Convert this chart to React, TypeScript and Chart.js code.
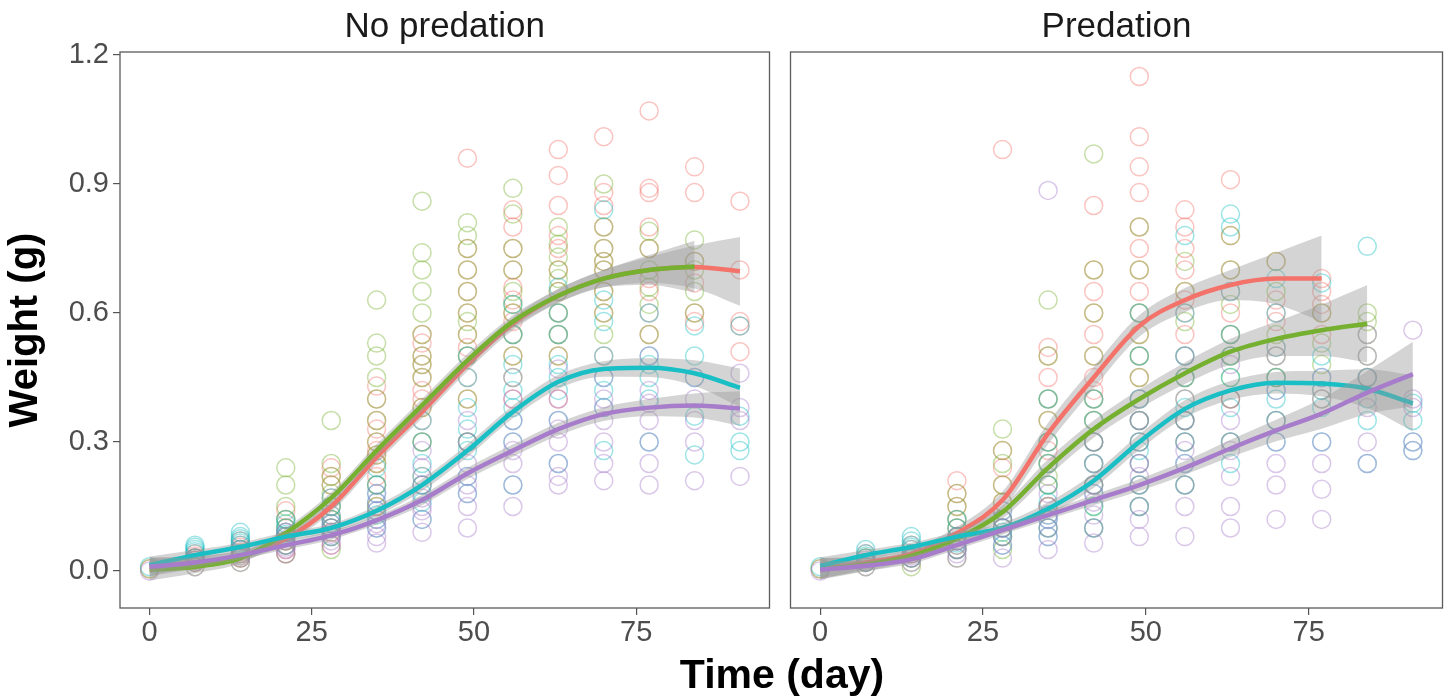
import React, { useEffect, useRef } from "react";
import { Chart, registerables } from "chart.js";
Chart.register(...registerables);

// ---------- data ----------
const DAYS = [0, 7, 14, 21, 28, 35, 42, 49, 56, 63, 70, 77, 84, 91];
const X_TICKS = [0, 25, 50, 75];
const Y_TICKS = [0, 0.3, 0.6, 0.9, 1.2];
const X_MIN = -4.55;
const X_MAX = 95.55;
const Y_MIN = -0.086;
const Y_MAX = 1.207;
const PANEL_TITLES = ["No predation", "Predation"];
const Y_TITLE = "Weight (g)";
const X_TITLE = "Time (day)";
const GROUP_COLORS = ["#F3736B", "#76B030", "#19BFC4", "#A77DCB"];

// No predation: observed weights per day (one inner array per day in DAYS)
const npRedPts = [
  [0.005],
  [0.02, 0.025, 0.03, 0.035, 0.04, 0.03],
  [0.03, 0.04, 0.045, 0.05, 0.055, 0.06, 0.07],
  [0.04, 0.05, 0.06, 0.07, 0.08, 0.09, 0.1, 0.12, 0.14],
  [0.06, 0.09, 0.1, 0.12, 0.13, 0.15, 0.17, 0.2, 0.22, 0.24],
  [0.15, 0.2, 0.22, 0.25, 0.27, 0.28, 0.3, 0.33, 0.35, 0.4, 0.43],
  [0.22, 0.3, 0.35, 0.38, 0.4, 0.42, 0.45, 0.48, 0.5, 0.53, 0.55],
  [0.3, 0.4, 0.45, 0.5, 0.52, 0.55, 0.6, 0.65, 0.7, 0.75, 0.96],
  [0.4, 0.5, 0.55, 0.58, 0.6, 0.63, 0.66, 0.7, 0.75, 0.8, 0.84],
  [0.4, 0.5, 0.55, 0.6, 0.65, 0.7, 0.75, 0.78, 0.85, 0.92, 0.98],
  [0.5, 0.6, 0.65, 0.7, 0.72, 0.75, 0.8, 0.85, 0.88, 1.01],
  [0.55, 0.6, 0.65, 0.68, 0.75, 0.8, 0.88, 0.89, 1.07],
  [0.58, 0.6, 0.67, 0.72, 0.88, 0.94],
  [0.51, 0.57, 0.58, 0.7, 0.86],
];
const npGreenPts = [
  [0.005],
  [0.01, 0.02, 0.025, 0.03],
  [0.02, 0.03, 0.035, 0.04, 0.05],
  [0.04, 0.06, 0.07, 0.08, 0.1, 0.12, 0.15, 0.2, 0.24],
  [0.05, 0.08, 0.1, 0.12, 0.15, 0.18, 0.2, 0.22, 0.25, 0.35],
  [0.15, 0.2, 0.25, 0.27, 0.3, 0.35, 0.4, 0.45, 0.5, 0.53, 0.63],
  [0.2, 0.3, 0.38, 0.45, 0.48, 0.5, 0.55, 0.6, 0.65, 0.7, 0.74, 0.86],
  [0.3, 0.4, 0.5, 0.55, 0.58, 0.6, 0.65, 0.7, 0.75, 0.78, 0.81],
  [0.45, 0.5, 0.55, 0.6, 0.62, 0.65, 0.7, 0.75, 0.83, 0.89],
  [0.5, 0.55, 0.6, 0.65, 0.68, 0.7, 0.73, 0.76, 0.8],
  [0.55, 0.6, 0.65, 0.7, 0.72, 0.75, 0.8, 0.9],
  [0.55, 0.62, 0.66, 0.7, 0.75, 0.79],
  [0.6, 0.65, 0.7, 0.72, 0.77],
  [],
];
const npCyanPts = [
  [0.01],
  [0.03, 0.04, 0.045, 0.05, 0.055, 0.06],
  [0.05, 0.06, 0.065, 0.07, 0.075, 0.08, 0.09],
  [0.06, 0.08, 0.085, 0.09, 0.1, 0.11, 0.12],
  [0.08, 0.1, 0.11, 0.12, 0.13, 0.15, 0.17],
  [0.1, 0.12, 0.13, 0.14, 0.16, 0.18, 0.2, 0.24],
  [0.12, 0.16, 0.18, 0.2, 0.22, 0.25, 0.3, 0.35],
  [0.18, 0.22, 0.28, 0.3, 0.33, 0.38, 0.45, 0.5],
  [0.2, 0.3, 0.35, 0.38, 0.42, 0.48, 0.55, 0.62],
  [0.25, 0.35, 0.42, 0.45, 0.48, 0.55, 0.6, 0.66],
  [0.28, 0.38, 0.42, 0.45, 0.5, 0.58, 0.63, 0.84],
  [0.3, 0.4, 0.45, 0.48, 0.5, 0.6],
  [0.27, 0.36, 0.45, 0.5, 0.57],
  [0.28, 0.3, 0.36, 0.57],
];
const npPurplePts = [
  [0.0],
  [0.01, 0.02, 0.025, 0.03],
  [0.02, 0.03, 0.035, 0.04, 0.05],
  [0.04, 0.05, 0.055, 0.06, 0.07, 0.08, 0.09],
  [0.06, 0.07, 0.08, 0.085, 0.09, 0.1, 0.11],
  [0.065, 0.08, 0.1, 0.11, 0.12, 0.14, 0.16, 0.18],
  [0.09, 0.12, 0.14, 0.15, 0.17, 0.2, 0.24, 0.28],
  [0.1, 0.15, 0.18, 0.2, 0.22, 0.25, 0.3, 0.35],
  [0.15, 0.2, 0.25, 0.28, 0.3, 0.35, 0.4, 0.45],
  [0.2, 0.22, 0.25, 0.3, 0.33, 0.35, 0.4, 0.47],
  [0.21, 0.25, 0.3, 0.35, 0.38, 0.4, 0.45],
  [0.2, 0.25, 0.3, 0.35, 0.39, 0.42, 0.5],
  [0.21, 0.3, 0.35, 0.4, 0.45],
  [0.22, 0.35, 0.38, 0.46],
];

// Predation: observed weights per day
const pRedPts = [
  [0.005],
  [0.02, 0.03, 0.04],
  [0.03, 0.04, 0.05, 0.06],
  [0.05, 0.07, 0.08, 0.1, 0.12, 0.15, 0.18, 0.21],
  [0.08, 0.1, 0.12, 0.16, 0.2, 0.24, 0.28, 0.98],
  [0.15, 0.2, 0.25, 0.28, 0.3, 0.35, 0.4, 0.45, 0.5, 0.52],
  [0.2, 0.3, 0.35, 0.4, 0.42, 0.45, 0.5, 0.55, 0.6, 0.65, 0.7, 0.85],
  [0.25, 0.35, 0.45, 0.5, 0.55, 0.6, 0.65, 0.7, 0.75, 0.8, 0.88, 0.94, 1.01, 1.15],
  [0.35, 0.45, 0.55, 0.6, 0.63, 0.65, 0.7, 0.75, 0.8, 0.84],
  [0.4, 0.5, 0.55, 0.6, 0.65, 0.7, 0.78, 0.91],
  [0.45, 0.52, 0.58, 0.6, 0.63, 0.72],
  [0.42, 0.55, 0.6, 0.62, 0.65, 0.68],
  [],
  [],
];
const pGreenPts = [
  [0.005],
  [0.01, 0.02, 0.03],
  [0.01, 0.02, 0.03, 0.04],
  [0.03, 0.05, 0.06, 0.08, 0.1, 0.12, 0.15, 0.18],
  [0.05, 0.08, 0.1, 0.12, 0.16, 0.2, 0.25, 0.28, 0.33],
  [0.1, 0.15, 0.2, 0.22, 0.25, 0.3, 0.35, 0.4, 0.5, 0.63],
  [0.1, 0.15, 0.2, 0.25, 0.3, 0.35, 0.4, 0.5, 0.6, 0.7, 0.97],
  [0.15, 0.2, 0.3, 0.35, 0.4, 0.45, 0.5, 0.55, 0.6, 0.7, 0.8],
  [0.2, 0.3, 0.35, 0.4, 0.45, 0.5, 0.58, 0.65, 0.72],
  [0.3, 0.4, 0.45, 0.5, 0.55, 0.62, 0.7, 0.78],
  [0.35, 0.45, 0.5, 0.55, 0.65, 0.72],
  [0.4, 0.48, 0.53, 0.6],
  [0.45, 0.5, 0.55, 0.58, 0.6],
  [],
];
const pCyanPts = [
  [0.01],
  [0.02, 0.03, 0.035, 0.04, 0.05],
  [0.03, 0.05, 0.055, 0.06, 0.07, 0.08],
  [0.05, 0.065, 0.07, 0.08, 0.1, 0.12],
  [0.06, 0.08, 0.09, 0.1, 0.12, 0.14],
  [0.08, 0.1, 0.12, 0.13, 0.16, 0.2, 0.25, 0.3, 0.4],
  [0.1, 0.15, 0.18, 0.2, 0.25, 0.3, 0.35, 0.4],
  [0.15, 0.2, 0.25, 0.28, 0.3, 0.35, 0.4, 0.5, 0.6],
  [0.2, 0.25, 0.3, 0.35, 0.38, 0.45, 0.5, 0.6, 0.78],
  [0.25, 0.3, 0.38, 0.45, 0.5, 0.55, 0.65, 0.8, 0.83],
  [0.3, 0.35, 0.4, 0.42, 0.45, 0.52, 0.6, 0.68],
  [0.3, 0.38, 0.42, 0.45, 0.5, 0.67],
  [0.25, 0.35, 0.4, 0.45, 0.755],
  [0.28, 0.3, 0.35, 0.39],
];
const pPurplePts = [
  [0.0],
  [0.01, 0.02, 0.025],
  [0.02, 0.03, 0.035, 0.04],
  [0.03, 0.04, 0.05, 0.06, 0.07, 0.08],
  [0.03, 0.06, 0.08, 0.1, 0.12, 0.14],
  [0.05, 0.08, 0.1, 0.12, 0.13, 0.15, 0.18, 0.885],
  [0.065, 0.1, 0.13, 0.16, 0.18, 0.2, 0.25, 0.3],
  [0.08, 0.12, 0.15, 0.2, 0.22, 0.25, 0.3, 0.35, 0.4],
  [0.08, 0.15, 0.2, 0.25, 0.28, 0.3, 0.35, 0.4, 0.5],
  [0.1, 0.15, 0.22, 0.28, 0.3, 0.35, 0.4, 0.48],
  [0.12, 0.2, 0.25, 0.3, 0.35, 0.42, 0.5],
  [0.12, 0.19, 0.25, 0.3, 0.4, 0.45],
  [0.25, 0.3, 0.38, 0.45, 0.5, 0.55],
  [0.28, 0.3, 0.38, 0.4, 0.56],
];

// Smoothed fits (value at each day; null where a group's fit stops)
const npRedFit = [0.01, 0.02, 0.035, 0.075, 0.15, 0.265, 0.37, 0.48, 0.575, 0.64, 0.68, 0.7, 0.707, 0.697];
const npGreenFit = [0.003, 0.01, 0.03, 0.088, 0.17, 0.28, 0.385, 0.49, 0.58, 0.64, 0.68, 0.7, 0.708, null];
const npCyanFit = [0.014, 0.037, 0.056, 0.08, 0.1, 0.14, 0.2, 0.28, 0.37, 0.44, 0.47, 0.473, 0.46, 0.426];
const npPurpleFit = [0.01, 0.02, 0.037, 0.06, 0.083, 0.118, 0.165, 0.227, 0.28, 0.33, 0.365, 0.38, 0.385, 0.378];
const pRedFit = [0.005, 0.02, 0.04, 0.088, 0.165, 0.32, 0.45, 0.57, 0.63, 0.665, 0.68, 0.68, null, null];
const pGreenFit = [0.005, 0.015, 0.035, 0.075, 0.137, 0.24, 0.33, 0.4, 0.46, 0.51, 0.54, 0.56, 0.575, null];
const pCyanFit = [0.012, 0.037, 0.056, 0.08, 0.1, 0.145, 0.21, 0.3, 0.377, 0.42, 0.438, 0.436, 0.424, 0.39];
const pPurpleFit = [0.003, 0.012, 0.027, 0.06, 0.095, 0.13, 0.165, 0.2, 0.24, 0.285, 0.327, 0.366, 0.415, 0.458];

// Half-width of the confidence band at each day
const npRedSe = [0.022, 0.015, 0.012, 0.012, 0.013, 0.015, 0.015, 0.015, 0.015, 0.016, 0.02, 0.03, 0.05, 0.08];
const npGreenSe = [0.025, 0.015, 0.012, 0.012, 0.013, 0.015, 0.015, 0.015, 0.015, 0.016, 0.02, 0.035, 0.06, null];
const npCyanSe = [0.02, 0.012, 0.01, 0.01, 0.01, 0.012, 0.014, 0.015, 0.015, 0.016, 0.018, 0.022, 0.03, 0.045];
const npPurpleSe = [0.02, 0.012, 0.01, 0.01, 0.01, 0.01, 0.012, 0.013, 0.014, 0.015, 0.016, 0.02, 0.028, 0.04];
const pRedSe = [0.025, 0.015, 0.012, 0.015, 0.02, 0.025, 0.025, 0.025, 0.028, 0.035, 0.06, 0.1, null, null];
const pGreenSe = [0.025, 0.015, 0.012, 0.013, 0.015, 0.02, 0.02, 0.022, 0.025, 0.03, 0.04, 0.06, 0.09, null];
const pCyanSe = [0.02, 0.012, 0.01, 0.01, 0.012, 0.015, 0.017, 0.018, 0.02, 0.022, 0.025, 0.03, 0.045, 0.065];
const pPurpleSe = [0.02, 0.012, 0.01, 0.01, 0.01, 0.01, 0.012, 0.014, 0.016, 0.02, 0.025, 0.035, 0.05, 0.075];

const PANELS = [
  {
    title: PANEL_TITLES[0],
    points: [npRedPts, npGreenPts, npCyanPts, npPurplePts],
    fits: [npRedFit, npGreenFit, npCyanFit, npPurpleFit],
    ses: [npRedSe, npGreenSe, npCyanSe, npPurpleSe],
  },
  {
    title: PANEL_TITLES[1],
    points: [pRedPts, pGreenPts, pCyanPts, pPurplePts],
    fits: [pRedFit, pGreenFit, pCyanFit, pPurpleFit],
    ses: [pRedSe, pGreenSe, pCyanSe, pPurpleSe],
  },
];

// ---------- styling ----------
const FONT = "'Liberation Sans', Arial, Helvetica, sans-serif";
const W = 1453;
const H = 698;

function rgba(hex: string, a: number) {
  const n = parseInt(hex.slice(1), 16);
  return `rgba(${(n >> 16) & 255},${(n >> 8) & 255},${n & 255},${a})`;
}

const framePlugin = {
  id: "panelFrame",
  afterDatasetsDraw(chart: any) {
    const { ctx, chartArea } = chart;
    ctx.save();
    ctx.strokeStyle = "#5a5a5a";
    ctx.lineWidth = 1.3;
    ctx.strokeRect(chartArea.left, chartArea.top, chartArea.right - chartArea.left, chartArea.bottom - chartArea.top);
    ctx.restore();
  },
};

function buildDatasets(panel: any) {
  const ds: any[] = [];
  panel.points.forEach((grp: number[][], g: number) => {
    const data: { x: number; y: number }[] = [];
    grp.forEach((vals, i) => vals.forEach((v) => data.push({ x: DAYS[i], y: v })));
    ds.push({
      type: "scatter",
      data,
      showLine: false,
      pointStyle: "circle",
      pointRadius: 9,
      pointBorderWidth: 1.5,
      pointBorderColor: rgba(GROUP_COLORS[g], 0.42),
      pointBackgroundColor: "rgba(0,0,0,0)",
      order: 100 - g,
    });
  });
  panel.fits.forEach((fit: (number | null)[], g: number) => {
    const se = panel.ses[g];
    const lower: { x: number; y: number }[] = [];
    const upper: { x: number; y: number }[] = [];
    const line: { x: number; y: number }[] = [];
    fit.forEach((v, i) => {
      if (v === null) return;
      line.push({ x: DAYS[i], y: v });
      lower.push({ x: DAYS[i], y: v - (se[i] as number) });
      upper.push({ x: DAYS[i], y: v + (se[i] as number) });
    });
    const common = {
      type: "line",
      pointRadius: 0,
      cubicInterpolationMode: "monotone",
      tension: 0.4,
    };
    ds.push({ ...common, data: lower, borderWidth: 0, borderColor: "rgba(0,0,0,0)", fill: false, order: 51 - g * 3 });
    ds.push({
      ...common,
      data: upper,
      borderWidth: 0,
      borderColor: "rgba(0,0,0,0)",
      backgroundColor: "rgba(153,153,153,0.42)",
      fill: "-1",
      order: 50 - g * 3,
    });
    ds.push({ ...common, data: line, borderWidth: 4.5, borderColor: GROUP_COLORS[g], fill: false, order: 49 - g * 3 });
  });
  return ds;
}

function Panel({ index, left, width }: { index: number; left: number; width: number }) {
  const ref = useRef<HTMLCanvasElement>(null);
  useEffect(() => {
    const panel = PANELS[index];
    const isLeft = index === 0;
    const tickFont = { family: FONT, size: 29 };
    const chart = new Chart(ref.current as HTMLCanvasElement, {
      type: "scatter",
      data: { datasets: buildDatasets(panel) } as any,
      plugins: [framePlugin],
      options: {
        animation: false,
        responsive: false,
        maintainAspectRatio: false,
        devicePixelRatio: 1,
        layout: { padding: { left: isLeft ? 0 : 10, right: isLeft ? 5 : 8, top: 0, bottom: 0 } },
        plugins: {
          legend: { display: false },
          tooltip: { enabled: false },
          title: {
            display: true,
            text: panel.title,
            fullSize: false,
            color: "#1a1a1a",
            font: { family: FONT, size: 35, weight: "normal" },
            padding: { top: 6, bottom: 4 },
          },
        },
        scales: {
          x: {
            type: "linear",
            min: X_MIN,
            max: X_MAX,
            afterBuildTicks: (s: any) => {
              s.ticks = X_TICKS.map((v) => ({ value: v }));
            },
            afterFit: (s: any) => {
              s.height = 90;
            },
            ticks: {
              font: tickFont,
              color: "#4d4d4d",
              padding: 1,
              maxRotation: 0,
              autoSkip: false,
              callback: (v: any) => String(v),
            },
            grid: { display: true, drawOnChartArea: false, drawTicks: true, tickLength: 7, color: "#555", lineWidth: 1.2 },
            border: { display: false },
          },
          y: {
            type: "linear",
            display: isLeft,
            min: Y_MIN,
            max: Y_MAX,
            afterBuildTicks: (s: any) => {
              s.ticks = Y_TICKS.map((v) => ({ value: v }));
            },
            afterFit: (s: any) => {
              s.width = isLeft ? 120 : 0;
            },
            ticks: {
              font: tickFont,
              color: "#4d4d4d",
              padding: 4,
              autoSkip: false,
              callback: (v: any) => Number(v).toFixed(1),
            },
            grid: { display: true, drawOnChartArea: false, drawTicks: true, tickLength: 7, color: "#555", lineWidth: 1.2 },
            border: { display: false },
            title: {
              display: true,
              text: Y_TITLE,
              color: "#000",
              font: { family: FONT, size: 40, weight: "bold" },
              padding: { top: 2, bottom: 0 },
            },
          },
        },
      } as any,
    });
    return () => chart.destroy();
  }, [index]);
  return (
    <div style={{ position: "absolute", left, top: 0, width, height: H }}>
      <canvas ref={ref} width={width} height={H} style={{ width, height: H, display: "block" }} />
    </div>
  );
}

export default function App() {
  return (
    <div style={{ position: "absolute", left: 0, top: 0, width: W, height: H, background: "#fff", overflow: "hidden" }}>
      <Panel index={0} left={0} width={780} />
      <Panel index={1} left={780} width={W - 780} />
      <div
        style={{
          position: "absolute",
          left: 582,
          width: 400,
          top: 653,
          textAlign: "center",
          fontFamily: FONT,
          fontWeight: "bold",
          fontSize: 41,
          lineHeight: "42px",
          color: "#000",
          whiteSpace: "nowrap",
        }}
      >
        {X_TITLE}
      </div>
    </div>
  );
}
